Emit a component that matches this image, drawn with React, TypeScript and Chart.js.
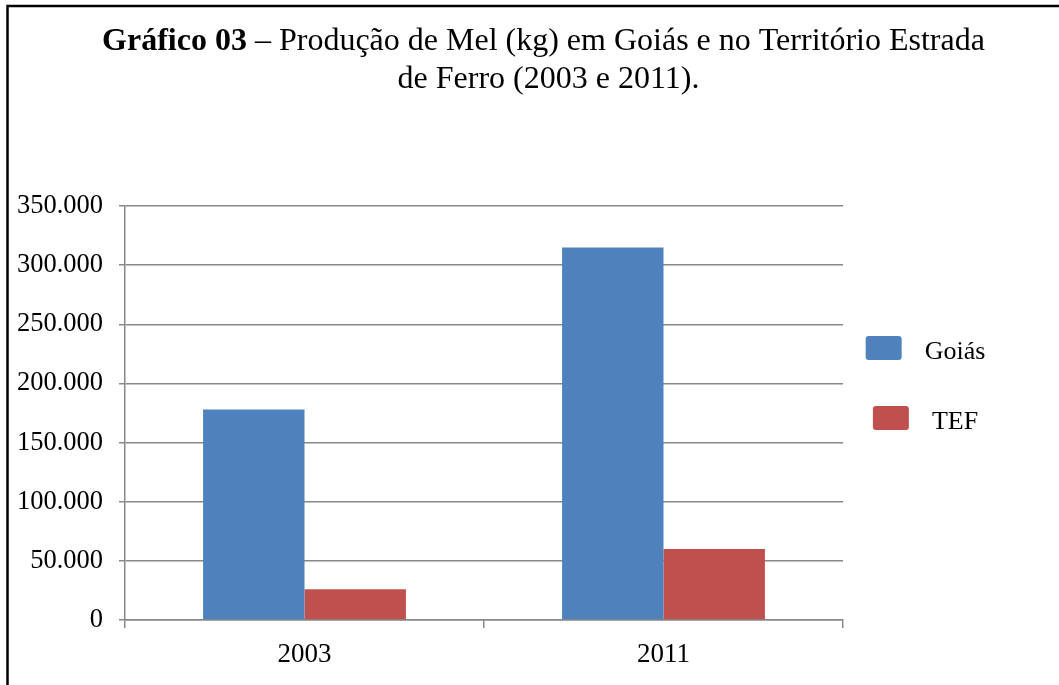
import React, { useEffect, useRef } from 'react';
import { Chart, registerables } from 'chart.js';

Chart.register(...registerables);

// ---- data ----
const categories: string[] = ['2003', '2011'];
const goiasValues: number[] = [178000, 315000];
const tefValues: number[] = [26000, 60000];
const seriesNames: string[] = ['Goiás', 'TEF'];
const yMax = 350000;
const yStep = 50000;
const titleBold = 'Gráfico 03';
const titleRest = ' – Produção de Mel (kg) em Goiás e no Território Estrada';
const titleLine2 = 'de Ferro (2003 e 2011).';

// ---- styles ----
const FONT = '"Liberation Serif", "Times New Roman", serif';
const GRID = '#888888';
const BLUE = '#4F81BD';
const RED = '#C0504D';

const fmt = (n: number) => String(Math.round(n)).replace(/\B(?=(\d{3})+(?!\d))/g, '.');

const decorPlugin = {
  id: 'decor',
  afterDraw(chart: any) {
    const ctx: CanvasRenderingContext2D = chart.ctx;
    ctx.save();
    // outer frame
    ctx.strokeStyle = '#000';
    ctx.lineWidth = 2.5;
    ctx.strokeRect(7.5, 6, 1200, 900);

    // title (mixed bold / normal)
    ctx.fillStyle = '#000';
    ctx.textBaseline = 'alphabetic';
    ctx.textAlign = 'left';
    ctx.font = `bold 32px ${FONT}`;
    const wb = ctx.measureText(titleBold).width;
    ctx.font = `32px ${FONT}`;
    const wr = ctx.measureText(titleRest).width;
    const x1 = 543.5 - (wb + wr) / 2;
    ctx.font = `bold 32px ${FONT}`;
    ctx.fillText(titleBold, x1, 50);
    ctx.font = `32px ${FONT}`;
    ctx.fillText(titleRest, x1 + wb, 50);
    ctx.textAlign = 'center';
    ctx.fillText(titleLine2, 548.5, 88);

    // legend
    ctx.font = `26px ${FONT}`;
    ctx.textAlign = 'left';
    const cx = 925.5;
    const boxW = 36;
    const boxH = 24;
    const gap = 23;
    chart.data.datasets.forEach((ds: any, i: number) => {
      const rowY = 348 + i * 70;
      const w = ctx.measureText(ds.label).width;
      const total = boxW + gap + w;
      const sx = cx - total / 2;
      ctx.fillStyle = ds.backgroundColor;
      ctx.beginPath();
      (ctx as any).roundRect(sx, rowY - boxH / 2, boxW, boxH, 3);
      ctx.fill();
      ctx.fillStyle = '#000';
      ctx.fillText(ds.label, sx + boxW + gap, rowY + 11);
    });
    ctx.restore();
  },
};

export default function App() {
  const ref = useRef<HTMLCanvasElement | null>(null);

  useEffect(() => {
    let chart: Chart | null = null;
    let cancelled = false;
    const make = () => {
      if (cancelled || !ref.current) return;
      chart = new Chart(ref.current, {
        type: 'bar',
        data: {
          labels: categories,
          datasets: [
            { label: seriesNames[0], data: goiasValues, backgroundColor: BLUE, borderWidth: 0 },
            { label: seriesNames[1], data: tefValues, backgroundColor: RED, borderWidth: 0 },
          ],
        },
        options: {
          responsive: false,
          animation: false,
          events: [],
          layout: { padding: { top: 206, right: 216, left: 0, bottom: 0 } },
          datasets: { bar: { categoryPercentage: 0.565, barPercentage: 1 } } as any,
          plugins: {
            legend: { display: false },
            title: { display: false },
            tooltip: { enabled: false },
          },
          scales: {
            x: {
              grid: {
                display: true,
                drawOnChartArea: false,
                drawTicks: true,
                tickLength: 8,
                color: GRID,
                lineWidth: 1.5,
                offset: true,
              },
              border: { display: true, color: GRID, width: 1.5 },
              ticks: { font: { family: FONT, size: 27 }, color: '#000', padding: 11 },
              afterFit: (s: any) => {
                s.height = 65;
              },
            },
            y: {
              min: 0,
              max: yMax,
              grid: { color: GRID, lineWidth: 1.5, tickLength: 6 },
              border: { display: true, color: GRID, width: 1.5 },
              ticks: {
                stepSize: yStep,
                font: { family: FONT, size: 26.5 },
                color: '#000',
                padding: 16,
                callback: (v: any) => fmt(Number(v)),
              },
              afterFit: (s: any) => {
                s.width = 125;
              },
            },
          },
        },
        plugins: [decorPlugin],
      });
    };
    const p = (document as any).fonts
      ? Promise.all([
          document.fonts.load(`32px "Liberation Serif"`),
          document.fonts.load(`bold 32px "Liberation Serif"`),
        ]).catch(() => null)
      : Promise.resolve(null);
    p.then(make);
    return () => {
      cancelled = true;
      if (chart) chart.destroy();
    };
  }, []);

  return (
    <div style={{ position: 'fixed', left: 0, top: 0, width: 1059, height: 685, background: '#fff' }}>
      <canvas ref={ref} width={1059} height={685} style={{ display: 'block', width: 1059, height: 685 }} />
    </div>
  );
}
